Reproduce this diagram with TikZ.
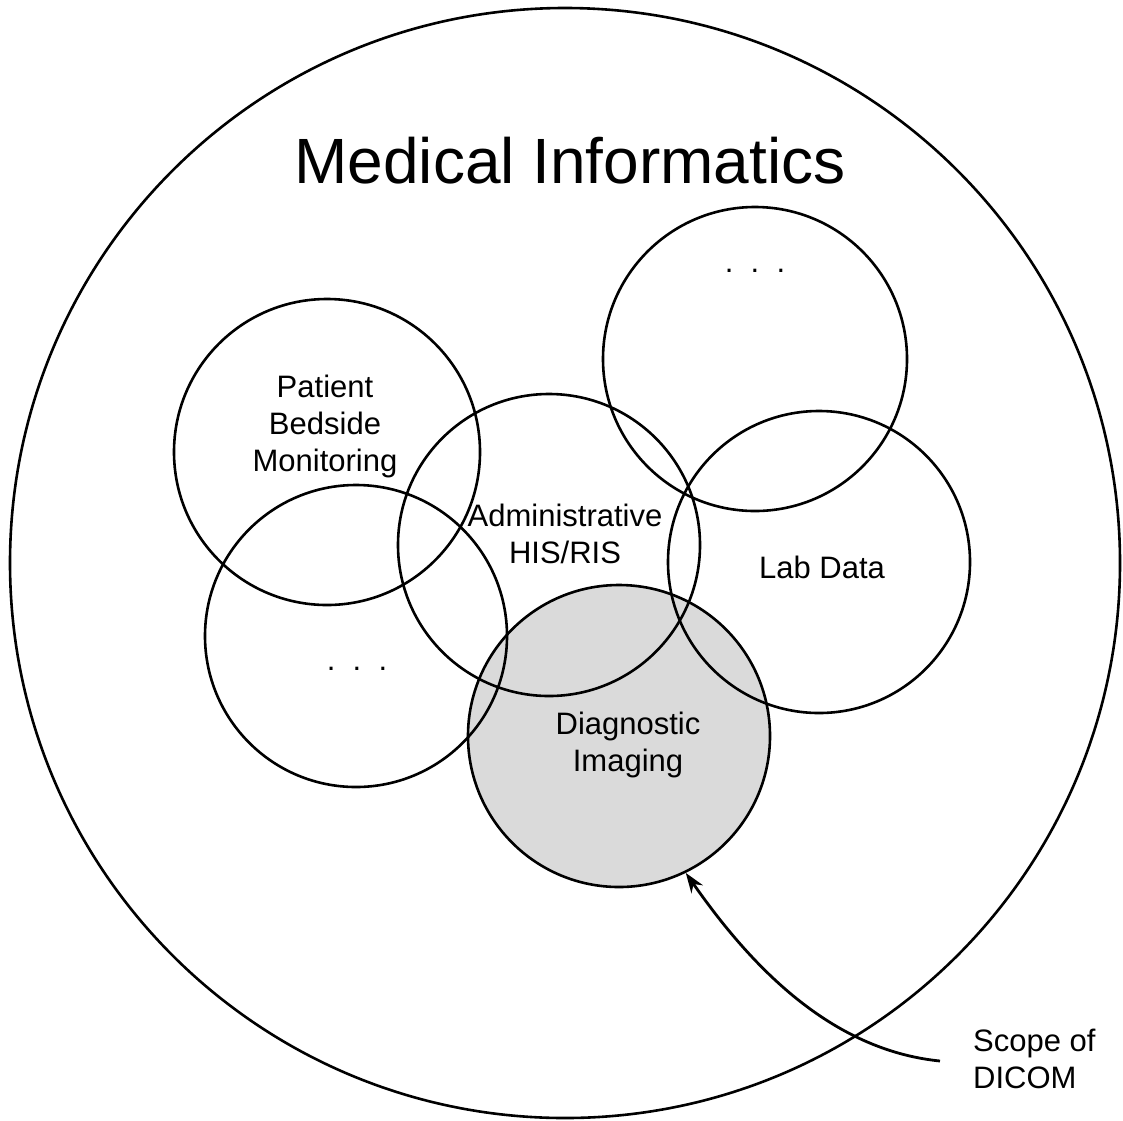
\documentclass[tikz,border=0pt]{standalone}
\usepackage{fontspec}
\setmainfont{Liberation Sans}
\usetikzlibrary{arrows.meta}
\definecolor{diagray}{RGB}{218,218,218}
\begin{document}
\begin{tikzpicture}[x=1pt,y=-1pt,
  ring/.style={circle,draw=black,line width=2.6pt,inner sep=0pt,minimum size=#1},
  lbl/.style={font=\fontsize{31}{37}\selectfont,align=center,anchor=base,inner sep=0pt},
  scopearrow/.style={line width=2.8pt,-{Stealth[length=20pt,width=14pt]}}]
\useasboundingbox (0,0) rectangle (1123,1120);
% outer circle
\node[ring=1110pt] (MI) at (565,563) {};
\node[font=\fontsize{64}{70}\selectfont,anchor=base,inner sep=0pt] (title) at (570,183) {Medical Informatics};
% diagnostic imaging (filled, drawn first)
\node[ring=302pt,fill=diagray] (D) at (619,736) {};
% other circles
\node[ring=306pt] (P) at (327,452) {};
\node[ring=304pt] (U) at (755,359) {};
\node[ring=302pt] (A) at (549,545) {};
\node[ring=302pt] (L) at (819,562) {};
\node[ring=302pt] (B) at (356,636) {};
% labels (anchor = baseline of last line)
\node[lbl] (Pt) at (325,471) {Patient\\Bedside\\Monitoring};
\node[lbl] (At) at (565,563) {Administrative\\HIS/RIS};
\node[lbl] (Lt) at (822,578) {Lab Data};
\node[lbl] (Dt) at (628,771) {Diagnostic\\Imaging};
\node[lbl] (Ut) at (755,272) {.\ \ .\ \ .};
\node[lbl] (Bt) at (357,670) {.\ \ .\ \ .};
\node[lbl,anchor=base west,align=left] (St) at (973,1088) {Scope of\\DICOM};
% arrow
\coordinate (S0) at (940,1061);
\draw[scopearrow] (S0) .. controls (830,1050) and (750,965) .. (D.-64);
\end{tikzpicture}
\end{document}
